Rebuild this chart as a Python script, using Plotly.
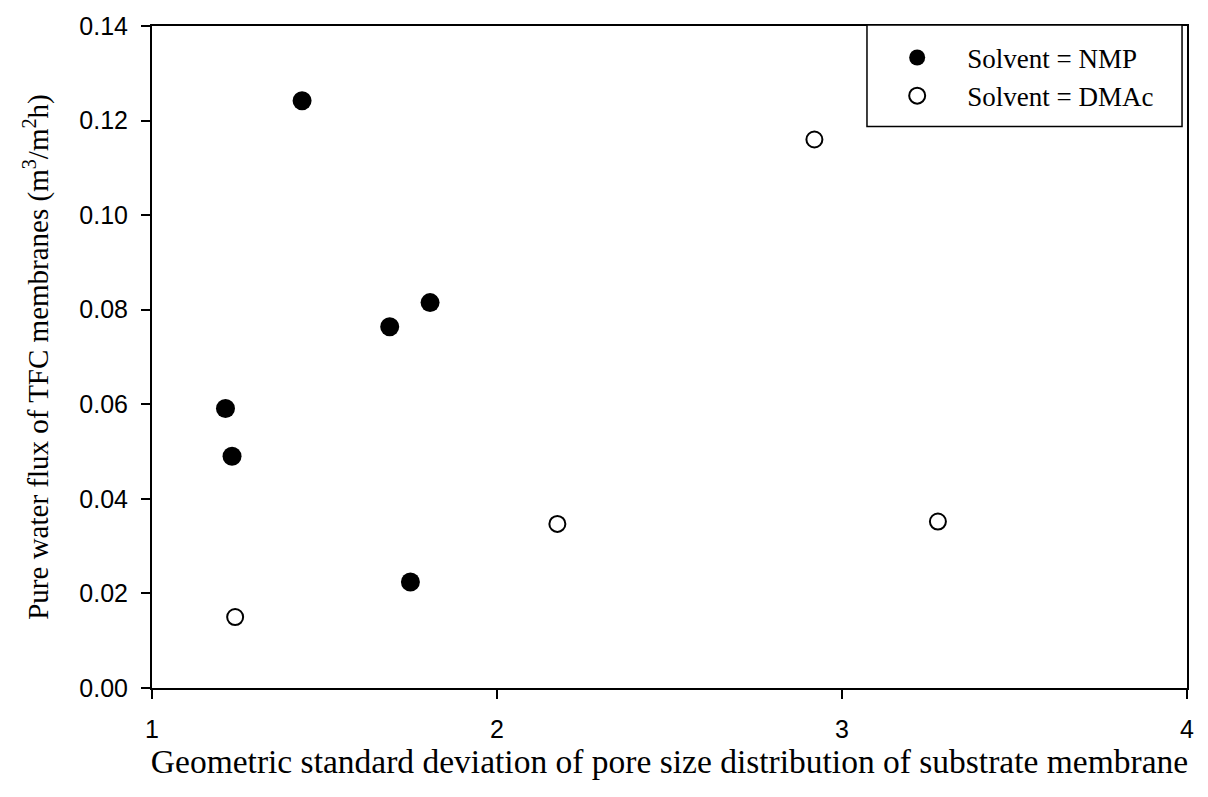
import plotly.graph_objects as go

# Geometric standard deviation (x) and pure water flux (y), grouped by casting solvent
nmp_gsd = [1.435, 1.689, 1.806, 1.213, 1.232, 1.749]
nmp_flux = [0.1242, 0.0764, 0.0815, 0.0591, 0.0490, 0.0224]

dmac_gsd = [1.241, 2.175, 2.920, 3.278]
dmac_flux = [0.0150, 0.0347, 0.1160, 0.0352]

x_ticks = [1, 2, 3, 4]
y_ticks = [0.00, 0.02, 0.04, 0.06, 0.08, 0.10, 0.12, 0.14]

serif = "Liberation Serif, Times New Roman, serif"
sans = "Liberation Sans, Arial, sans-serif"

fig = go.Figure()
fig.add_trace(go.Scatter(
    x=nmp_gsd, y=nmp_flux, mode="markers", name="Solvent = NMP",
    marker=dict(symbol="circle", size=19, color="black",
                line=dict(color="black", width=0)),
))
fig.add_trace(go.Scatter(
    x=dmac_gsd, y=dmac_flux, mode="markers", name="Solvent = DMAc",
    marker=dict(symbol="circle-open", size=16, color="black",
                line=dict(color="black", width=2)),
))

axis_common = dict(
    showline=True, linecolor="black", linewidth=2, mirror=True,
    ticks="outside", ticklen=9, tickwidth=2, tickcolor="black",
    showgrid=False, zeroline=False,
    tickfont=dict(family=sans, size=25, color="black"),
)

# Frame around the legend entries
fig.add_shape(type="rect", xref="paper", yref="paper",
              x0=0.6908, x1=0.9952, y0=0.848, y1=1.0015,
              line=dict(color="black", width=1.5), fillcolor="white", layer="above")

fig.update_layout(
    width=1208, height=797,
    margin=dict(l=152, r=21, t=24, b=109),
    paper_bgcolor="white", plot_bgcolor="white",
    xaxis=dict(range=[1, 4], tickvals=x_ticks, ticktext=[str(v) for v in x_ticks],
               ticklabelstandoff=9,
               title=dict(text="Geometric standard deviation of pore size distribution of substrate membrane",
                          font=dict(family=serif, size=33.5, color="black"), standoff=0),
               **axis_common),
    yaxis=dict(range=[0, 0.14], tickvals=y_ticks, ticktext=[f"{v:.2f}" for v in y_ticks],
               ticklabelstandoff=8,
               title=dict(text="Pure water flux of TFC membranes (m<sup>3</sup>/m<sup>2</sup>h)",
                          font=dict(family=serif, size=29, color="black"), standoff=22),
               **axis_common),
    legend=dict(x=0.691, y=0.9887, xanchor="left", yanchor="top",
                borderwidth=0, bgcolor="rgba(0,0,0,0)",
                font=dict(family=serif, size=27, color="black"),
                itemwidth=90, tracegroupgap=0),
    showlegend=True,
)

fig.write_html("out.html")
